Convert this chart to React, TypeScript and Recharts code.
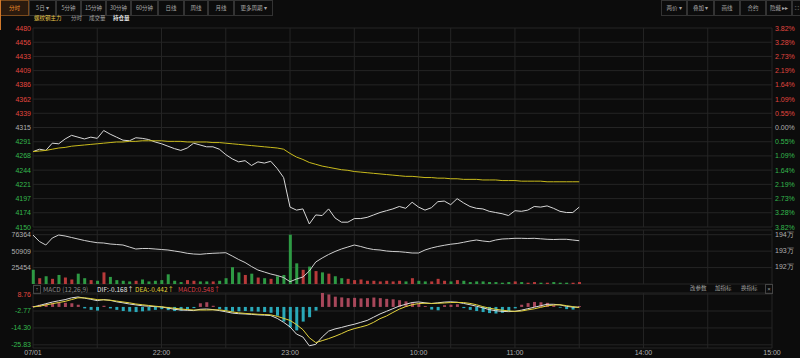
import React from 'react';
import { ComposedChart, Line, Bar, Cell, XAxis, YAxis, CartesianGrid } from 'recharts';

const STEP = 3; // minutes between samples (trading-minute index)
const PRE_CLOSE = 4315;

const price = [
  4275, 4279, 4277, 4289, 4288, 4296, 4302, 4299, 4296, 4299,
  4297, 4310, 4304, 4299, 4294, 4293, 4298, 4297, 4295, 4291,
  4288, 4284, 4280, 4277, 4281, 4289, 4286, 4283, 4283, 4279,
  4270, 4263, 4258, 4260, 4252, 4258, 4256, 4259, 4247, 4232,
  4183, 4178, 4180, 4155, 4170, 4169, 4180, 4165, 4158, 4158,
  4164, 4164, 4166, 4170, 4174, 4177, 4180, 4184, 4181, 4191,
  4183, 4178, 4182, 4192, 4193, 4187, 4197, 4190, 4184, 4181,
  4180, 4176, 4174, 4172, 4169, 4177, 4176, 4178, 4184, 4183,
  4185, 4181, 4176, 4174, 4174, 4183,
];

const avgPrice = [
  4275, 4276, 4277, 4279, 4281, 4282, 4284, 4285, 4286, 4287,
  4288, 4289, 4290, 4291, 4291, 4292, 4292, 4293, 4293, 4293,
  4293, 4292, 4292, 4292, 4291, 4291, 4291, 4291, 4290, 4290,
  4289, 4288, 4287, 4286, 4285, 4284, 4283, 4282, 4281, 4279,
  4272, 4266, 4262, 4257, 4254, 4251, 4249, 4247, 4245, 4244,
  4242, 4241, 4240, 4239, 4238, 4237, 4236, 4235, 4234, 4234,
  4233, 4232, 4232, 4231, 4231, 4230, 4230, 4229, 4229, 4229,
  4228, 4228, 4228, 4227, 4227, 4227, 4226, 4226, 4226, 4226,
  4225, 4225, 4225, 4225, 4225, 4225,
];

const volume = [
  22000, 9000, 12000, 8000, 14000, 10000, 7000, 16000, 9000, 6000,
  5000, 18000, 11000, 6000, 5000, 4000, 5000, 7000, 4000, 5000,
  6000, 15000, 5000, 3000, 6000, 5000, 4000, 4000, 4000, 5000,
  9000, 26000, 18000, 14000, 16000, 10000, 9000, 8000, 12000, 14000,
  76364, 32000, 22000, 27000, 20000, 18000, 16000, 12000, 9000, 8000,
  6000, 7000, 5000, 5000, 4000, 5000, 4000, 5000, 4000, 9000,
  5000, 4000, 4000, 8000, 5000, 4000, 6000, 5000, 3000, 4000,
  4000, 3000, 3000, 2000, 3000, 4000, 3000, 2000, 3000, 2000,
  2000, 3000, 2000, 2000, 2000, 3000,
];

const openInterest = [
  1939800, 1935750, 1933560, 1937940, 1939810, 1939190, 1938250, 1937310, 1936380, 1935630,
  1935000, 1934810, 1934190, 1933880, 1933560, 1932310, 1931060, 1931380, 1931380, 1931060,
  1930750, 1930440, 1929810, 1929190, 1928380, 1927940, 1927750, 1928130, 1928380, 1928560,
  1928750, 1926690, 1924500, 1922630, 1920130, 1917940, 1916690, 1915440, 1914500, 1913250,
  1910630, 1912310, 1913560, 1917310, 1922940, 1925440, 1927630, 1929500, 1931060, 1932310,
  1933560, 1932630, 1931500, 1930750, 1930440, 1929810, 1929500, 1929380, 1929000, 1928560,
  1928560, 1930440, 1931690, 1932630, 1933380, 1934060, 1934500, 1935250, 1936060, 1936690,
  1936060, 1935630, 1936690, 1937310, 1937500, 1937750, 1937750, 1937630, 1937750, 1937440,
  1937130, 1937000, 1937130, 1937130, 1936690, 1936250,
];

const dif = [
  0, 1.0, 2.2, 3.3, 4.2, 5.0, 6.2, 6.8, 6.0, 5.2,
  4.3, 5.0, 4.5, 3.5, 2.8, 2.0, 1.4, 0.8, 0.5, 0.2,
  0.0, -0.8, -1.6, -2.1, -2.3, -2.5, -1.6, -1.4, -1.8, -2.5,
  -3.3, -4.2, -4.6, -4.8, -5.1, -5.4, -5.6, -5.9, -7.8, -10.5,
  -13.6, -18.5, -20.5, -26.5, -25.5, -20.5, -16.5, -15.0, -14.0, -12.8,
  -11.8, -10.5, -9.2, -7.0, -4.8, -3.0, -1.2, 0.6, 1.8, 3.0,
  3.4, 2.8, 2.3, 2.8, 3.3, 3.5, 3.2, 2.4, 1.5, 0.5,
  -0.6, -1.8, -2.6, -3.0, -3.2, -3.0, -2.2, -1.2, -0.2, 0.8,
  1.8, 1.8, 1.4, 0.4, -0.1, -0.168,
];

const dea = [
  0, 0.5, 1.3, 2.2, 3.0, 3.8, 5.0, 6.2, 6.2, 5.7,
  5.0, 4.8, 4.6, 4.0, 3.4, 2.8, 2.0, 1.5, 1.0, 0.5,
  0.1, -0.4, -0.9, -1.4, -1.8, -2.1, -2.1, -2.1, -2.0, -2.0,
  -2.6, -3.4, -4.0, -4.4, -4.7, -5.0, -5.2, -5.4, -6.4, -7.8,
  -9.2, -12.0, -15.5, -21.0, -24.3, -23.0, -21.6, -20.0, -18.2, -16.2,
  -14.8, -13.7, -12.5, -10.5, -8.0, -6.2, -3.8, -1.5, 0.2, 1.5,
  2.3, 2.5, 2.4, 2.5, 2.7, 3.0, 3.1, 3.0, 2.4, 1.5,
  0.2, -0.8, -1.6, -2.2, -2.7, -3.0, -2.8, -2.0, -1.3, -0.3,
  0.7, 1.3, 1.5, 0.9, 0.2, -0.442,
];

const macdBar = [
  0.5, 1.5, 2.0, 2.5, 3.0, 2.8, 2.5, 1.5, -1.0, -2.0,
  -2.5, 0.8, -1.0, -2.0, -2.8, -3.2, -3.5, -3.0, -2.5, -2.0,
  -1.5, -2.2, -2.8, -2.5, -1.5, -0.8, 2.5, 3.2, 0.8, -1.5,
  -2.5, -3.2, -3.0, -2.8, -3.0, -3.2, -3.5, -4.0, -6.0, -10.0,
  -14.0, -16.0, -10.0, -7.0, -2.5, 9.5, 8.5, 7.0, 6.5, 6.0,
  6.2, 5.8, 6.0, 6.4, 6.0, 5.5, 5.2, 4.6, 3.8, 2.6,
  2.2, 0.6, -1.8, -2.3, 1.2, 1.5, 1.8, -0.8, -2.0, -2.8,
  -3.5, -4.2, -4.5, -4.0, -3.0, -1.0, 1.5, 2.6, 3.4, 3.2,
  2.8, 1.2, -0.5, -1.5, -1.8, 0.548,
];

const priceTicks = [
  4150, 4173.6, 4197.1, 4220.7, 4244.3, 4267.9, 4291.4, 4315,
  4338.6, 4362.1, 4385.7, 4409.3, 4432.9, 4456.4, 4480,
];
const volTicks = [25454, 50909, 76364];
const oiTicks = [1920000, 1930000, 1940000];
const macdTicks = [-25.83, -14.3, -2.77, 8.76];
const gridMinutes = [0, 30, 60, 90, 120, 150, 180, 195, 225, 255, 285, 315, 345];
const labelMinutes = [0, 60, 120, 180, 225, 285, 345];
const labelTexts = ['07/01', '22:00', '23:00', '10:00', '11:00', '14:00', '15:00'];

const rows = price.map((p, i) => ({
  m: i * STEP,
  price: p,
  avg: avgPrice[i],
  vol: volume[i],
  oi: openInterest[i],
  dif: dif[i],
  dea: dea[i],
  macd: macdBar[i],
}));

const W = 800;
const H = 358;
const BG = '#0c0c0c';
const GRID = '#252525';
const RED = '#e0463f';
const GREEN = '#34b84c';
const GREY = '#b0b0b0';
const NUM_FONT = '"Liberation Sans", Arial, sans-serif';
const CJK_FONT = '"Noto Sans CJK SC", "Noto Sans", sans-serif';

const priceColor = (v: number) =>
  Math.abs(v - PRE_CLOSE) < 0.5 ? GREY : v > PRE_CLOSE ? RED : GREEN;

const tickText = (x: number, y: number, anchor: string, fill: string, text: string) => (
  <text x={x} y={y} textAnchor={anchor} dominantBaseline="central" fontSize={7} fontFamily={NUM_FONT} fill={fill}>
    {text}
  </text>
);

const PriceTick = (p: any) => tickText(p.x, p.y, 'end', priceColor(p.payload.value), String(Math.round(p.payload.value)));
const PctTick = (p: any) =>
  tickText(p.x, p.y, 'start', priceColor(p.payload.value),
    ((Math.abs(p.payload.value - PRE_CLOSE) / PRE_CLOSE) * 100).toFixed(2) + '%');
const VolTick = (p: any) => tickText(p.x, p.y, 'end', GREY, String(p.payload.value));
const OiTick = (p: any) => tickText(p.x, p.y, 'start', GREY, Math.round(p.payload.value / 10000) + '万');
const MacdTick = (p: any) => tickText(p.x, p.y, 'end', p.payload.value > 0 ? RED : GREEN, p.payload.value.toFixed(2));
const TimeTick = (p: any) => {
  const idx = labelMinutes.indexOf(p.payload.value);
  if (idx < 0) return <g />;
  return tickText(p.x, p.y + 4, 'middle', GREY, labelTexts[idx]);
};

const Layer = ({ children }: { children: React.ReactNode }) => (
  <div style={{ position: 'absolute', left: 0, top: 0 }}>{children}</div>
);

const leftBtns = [
  { t: '分时', x: 0, w: 28 },
  { t: '5日 ▾', x: 29, w: 26 },
  { t: '5分钟', x: 56, w: 24 },
  { t: '15分钟', x: 81, w: 24 },
  { t: '30分钟', x: 106, w: 24 },
  { t: '60分钟', x: 131, w: 26 },
  { t: '日线', x: 158, w: 25 },
  { t: '周线', x: 184, w: 23 },
  { t: '月线', x: 208, w: 25 },
  { t: '更多周期 ▾', x: 234, w: 38 },
];
const rightBtns = [
  { t: '两价 ▾', x: 661, w: 25 },
  { t: '叠加 ▾', x: 687, w: 26 },
  { t: '画线', x: 714, w: 25 },
  { t: '合约', x: 740, w: 25 },
  { t: '隐藏 ▸▸', x: 766, w: 25 },
  { t: '⛶', x: 792, w: 8 },
];

const Btn = ({ t, x, w, active }: { t: string; x: number; w: number; active?: boolean }) => (
  <div
    style={{
      position: 'absolute', left: x, top: 0, width: w - 1, height: 14,
      border: `1px solid ${active ? '#7a4a1c' : '#333'}`,
      background: active ? '#2a1a0e' : 'transparent',
      color: active ? '#f0902c' : '#a8a8a8',
      fontSize: 5.5, lineHeight: '14px', textAlign: 'center', whiteSpace: 'nowrap',
      fontFamily: CJK_FONT,
    }}
  >
    {t}
  </div>
);

const txt = (x: number, y: number, s: string, color: string, size = 6, weight = 400) => (
  <div
    style={{
      position: 'absolute', left: x, top: y, color, fontSize: size, fontWeight: weight,
      fontFamily: CJK_FONT, whiteSpace: 'nowrap', lineHeight: 1,
    }}
  >
    {s}
  </div>
);

const App = () => (
  <div style={{ position: 'absolute', left: 0, top: 0, width: W, height: H, background: BG, overflow: 'hidden' }}>
    {/* price panel */}
    <Layer>
      <ComposedChart width={W} height={H} data={rows} margin={{ top: 28, right: 0, bottom: 131, left: 0 }}>
        <CartesianGrid stroke={GRID} strokeWidth={1} />
        <XAxis dataKey="m" type="number" domain={[0, 345]} ticks={gridMinutes} hide />
        <YAxis domain={[4150, 4480]} ticks={priceTicks} width={33} tick={PriceTick}
          tickLine={false} axisLine={false} tickSize={0} tickMargin={2} interval={0} />
        <YAxis yAxisId="R" orientation="right" domain={[4150, 4480]} ticks={priceTicks} width={28} tick={PctTick}
          tickLine={false} axisLine={false} tickSize={0} tickMargin={3} interval={0} />
        <Line dataKey="price" type="linear" stroke="#d8d8d8" strokeWidth={1} dot={false} isAnimationActive={false} />
        <Line yAxisId="R" dataKey="avg" type="linear" stroke="#c9bb1c" strokeWidth={1} dot={false} isAnimationActive={false} />
      </ComposedChart>
    </Layer>

    {/* volume + open interest panel */}
    <Layer>
      <ComposedChart width={W} height={H} data={rows} margin={{ top: 230, right: 0, bottom: 74, left: 0 }}>
        <CartesianGrid stroke={GRID} strokeWidth={1} />
        <XAxis dataKey="m" type="number" domain={[0, 345]} ticks={gridMinutes} hide />
        <YAxis domain={[0, 83645]} ticks={volTicks} width={33} tick={VolTick}
          tickLine={false} axisLine={false} tickSize={0} tickMargin={2} interval={0} />
        <YAxis yAxisId="R" orientation="right" domain={[1909190, 1942940]} ticks={oiTicks} width={28} tick={OiTick}
          tickLine={false} axisLine={false} tickSize={0} tickMargin={3} interval={0} />
        <Bar dataKey="vol" barSize={3} isAnimationActive={false}>
          {rows.map((r, i) => (
            <Cell key={i} fill={r.price >= (i === 0 ? PRE_CLOSE : price[i - 1]) ? '#b83a3a' : '#2e9a44'} />
          ))}
        </Bar>
        <Line yAxisId="R" dataKey="oi" type="linear" stroke="#cfcfcf" strokeWidth={1} dot={false} isAnimationActive={false} />
      </ComposedChart>
    </Layer>

    {/* MACD panel */}
    <Layer>
      <ComposedChart width={W} height={H} data={rows} margin={{ top: 293, right: 28, bottom: 0, left: 0 }}>
        <CartesianGrid stroke={GRID} strokeWidth={1} />
        <XAxis dataKey="m" type="number" domain={[0, 345]} ticks={gridMinutes} height={10} tick={TimeTick}
          tickLine={false} axisLine={false} tickSize={0} tickMargin={0} interval={0} />
        <YAxis domain={[-28, 8.76]} ticks={macdTicks} width={33} tick={MacdTick}
          tickLine={false} axisLine={false} tickSize={0} tickMargin={2} interval={0} />
        <Bar dataKey="macd" barSize={3} isAnimationActive={false}>
          {rows.map((r, i) => (
            <Cell key={i} fill={r.macd >= 0 ? '#a8475a' : '#2aa9b9'} />
          ))}
        </Bar>
        <Line dataKey="dif" type="linear" stroke="#dcdcdc" strokeWidth={1} dot={false} isAnimationActive={false} />
        <Line dataKey="dea" type="linear" stroke="#e2d23c" strokeWidth={1} dot={false} isAnimationActive={false} />
      </ComposedChart>
    </Layer>

    {/* toolbar */}
    {leftBtns.map((b, i) => <Btn key={b.t} {...b} active={i === 0} />)}
    {rightBtns.map((b) => <Btn key={b.t} {...b} />)}
    <div style={{ position: 'absolute', left: 0, top: 0, width: 1, height: 30, background: '#d0782a' }} />

    {/* legend row */}
    {txt(34, 16, '螺纹钢主力', '#e6c64a', 5.5)}
    {txt(71, 16, '分时', '#a0a0a0', 5.5)}
    {txt(89, 16, '成交量', '#a0a0a0', 5.5)}
    {txt(113, 16, '持仓量', '#e8e8e8', 5.5, 700)}

    {/* MACD header */}
    <div style={{ position: 'absolute', left: 33, top: 285, width: 6, height: 7, border: '1px solid #444',
      color: '#999', fontSize: 5, lineHeight: '7px', textAlign: 'center', fontFamily: NUM_FONT }}>↑</div>
    {txt(43, 286, 'MACD (12,26,9)', '#8a8a8a', 6.5)}
    {txt(97, 286, 'DIF:-0.168↑', '#e6e6e6', 6.5)}
    {txt(135, 286, 'DEA:-0.442↑', '#e2d23c', 6.5)}
    {txt(178, 286, 'MACD:0.548↑', '#d9434b', 6.5)}
    {txt(690, 286, '改参数', '#a0a0a0', 5.5)}
    {txt(715, 286, '加指标', '#a0a0a0', 5.5)}
    {txt(741, 286, '换指标', '#a0a0a0', 5.5)}
    <div style={{ position: 'absolute', left: 765, top: 284, width: 6, height: 8, border: '1px solid #444',
      color: '#999', fontSize: 6, lineHeight: '8px', textAlign: 'center', fontFamily: NUM_FONT }}>×</div>
  </div>
);

export default App;
